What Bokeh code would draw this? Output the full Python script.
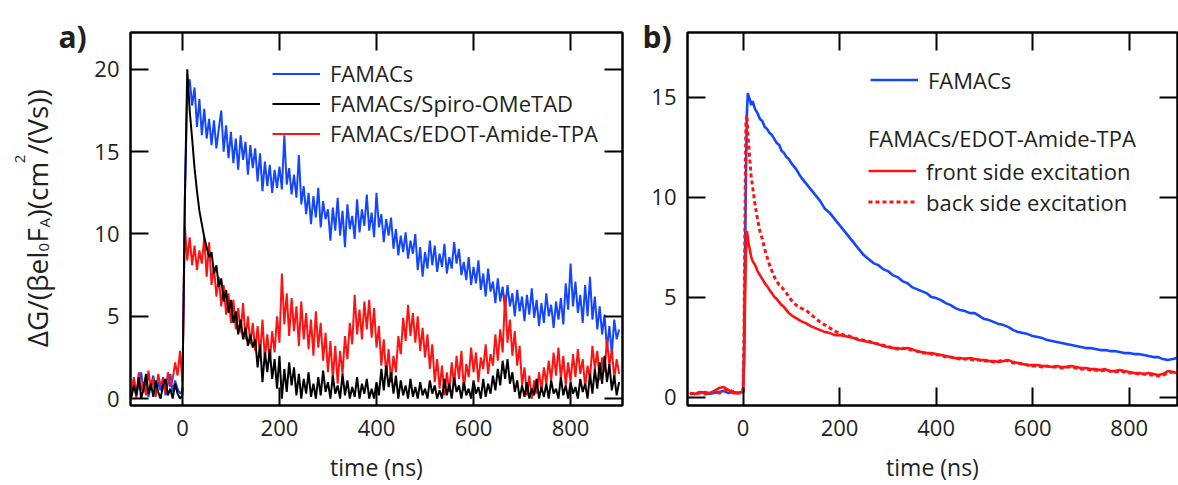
import math
from bokeh.plotting import figure
from bokeh.models import Range1d, LinearAxis, FixedTicker, Legend, LegendItem, Label, GridBox
from bokeh.embed import file_html
from bokeh.resources import INLINE

FONT = "Open Sans"
TXT = "#231F20"
BLUE = "#1446FF"
RED = "#FF1212"
BLACK = "#000000"

# ---------------- data : panel a (t = -105 ns ... 900 ns, every 5 ns) ----------------
A_T0 = -105
A_DT = 5
famacs_a = [
    0.3, 1.2, 0.2, 0.9, 1.6, 0.4, 1.1, 0.1, 0.8, 1.4,
    0.3, 1.0, 0.5, 1.3, 0.2, 0.9, 1.5, 0.4, 1.1, 0.6,
    0.3, 0.5, 12.0, 18.6, 19.4, 17.8, 18.9, 16.5, 18.2, 16.0,
    17.6, 15.8, 17.0, 15.4, 16.9, 15.2, 16.4, 17.5, 15.0, 16.6,
    14.6, 16.2, 14.3, 15.8, 13.9, 16.0, 14.5, 15.6, 13.6, 15.4,
    14.0, 15.2, 13.2, 14.9, 12.6, 14.4, 12.9, 14.2, 12.5, 13.9,
    12.8, 14.1, 12.7, 16.0, 13.0, 14.0, 12.4, 13.6, 12.2, 14.8,
    11.8, 12.9, 11.2, 12.5, 10.6, 12.3, 11.0, 12.8, 10.4, 12.0,
    10.9, 11.5, 9.6, 11.6, 10.2, 12.2, 9.9, 11.4, 9.2, 11.8,
    10.3, 11.1, 9.7, 12.1, 10.1, 11.5, 10.5, 12.4, 10.2, 11.3,
    9.8, 12.5, 10.4, 11.2, 9.5, 10.9, 9.9, 11.0, 9.1, 10.3,
    8.7, 9.9, 8.9, 10.1, 8.5, 9.6, 8.8, 10.0, 7.8, 9.2,
    7.4, 8.9, 7.9, 9.6, 8.1, 9.3, 7.7, 8.8, 8.0, 9.4,
    7.6, 8.6, 7.9, 9.5, 8.2, 9.1, 7.5, 8.3, 7.2, 8.6,
    6.9, 8.0, 7.0, 8.4, 6.6, 7.6, 6.2, 7.9, 6.5, 7.1,
    5.8, 7.3, 5.9, 6.8, 5.4, 6.9, 5.6, 6.4, 5.0, 6.6,
    5.3, 6.2, 4.7, 6.3, 5.1, 6.7, 4.9, 6.0, 4.4, 5.8,
    4.6, 6.4, 5.0, 5.7, 4.3, 5.9, 4.8, 6.1, 4.5, 7.0,
    5.4, 8.2, 5.6, 7.1, 5.2, 6.3, 4.6, 6.9, 5.0, 7.4,
    4.8, 6.2, 4.2, 5.6, 3.9, 5.1, 3.0, 4.4, 2.7, 4.8,
    3.6, 4.2,
]
spiro_a = [
    0.1, 0.8, 0.2, 1.3, 0.0, 0.6, 1.5, 0.3, 0.9, 0.1,
    1.1, 0.4, 0.0, 0.8, 1.2, 0.2, 0.6, 0.0, 0.9, 0.3,
    0.0, 0.2, 12.0, 20.0, 17.5, 15.8, 14.0, 12.6, 11.4, 10.6,
    9.8, 9.2, 8.6, 8.9, 7.6, 8.1, 6.8, 7.3, 5.9, 6.6,
    5.2, 6.0, 4.6, 5.3, 3.9, 4.8, 3.6, 4.3, 3.2, 3.9,
    3.1, 3.6, 1.9, 3.3, 1.0, 2.8, 1.6, 3.0, 1.2, 2.4,
    0.6, 2.6, 0.0, 1.8, 0.4, 2.2, 0.8, 1.9, 0.2, 1.5,
    0.0, 1.2, 0.3, 1.6, 0.1, 0.9, 0.0, 1.3, 0.2, 1.7,
    0.4, 1.0, 0.0, 1.4, 0.3, 0.8, 0.0, 1.5, 0.2, 1.1,
    0.0, 0.7, 0.1, 1.3, 0.0, 0.9, 0.3, 1.2, 0.0, 0.6,
    0.0, 1.0, 0.2, 1.8, 0.5, 2.0, 0.7, 1.6, 0.3, 1.4,
    0.0, 1.1, 0.2, 0.8, 0.0, 1.2, 0.1, 0.7, 0.0, 1.0,
    0.2, 0.6, 0.0, 1.1, 0.3, 0.8, 0.0, 0.5, 0.0, 1.2,
    0.2, 0.9, 0.0, 1.3, 0.4, 0.8, 0.0, 1.0, 0.2, 0.6,
    0.0, 1.1, 0.3, 0.7, 0.0, 1.2, 0.1, 0.9, 0.3, 1.4,
    0.5, 1.8, 0.8, 2.3, 1.2, 2.4, 0.9, 1.6, 0.4, 1.1,
    0.0, 0.8, 0.1, 1.0, 0.0, 0.6, 0.2, 1.2, 0.0, 0.7,
    0.1, 0.9, 0.0, 1.1, 0.3, 0.6, 0.0, 1.3, 0.2, 0.8,
    0.0, 1.0, 0.3, 0.7, 0.0, 1.2, 0.4, 0.9, 0.0, 1.5,
    0.3, 1.8, 0.6, 2.2, 0.9, 2.6, 1.0, 2.1, 0.5, 1.4,
    0.2, 1.0,
]
edot_a = [
    0.4, 1.3, 0.0, 1.6, 0.5, 1.0, 0.2, 1.7, 0.6, 1.2,
    0.1, 1.5, 0.8, 1.1, 0.3, 1.6, 0.7, 1.2, 2.2, 1.4,
    2.9, 1.0, 10.5, 8.4, 9.8, 8.1, 9.3, 7.8, 9.0, 8.2,
    9.8, 7.4, 9.5, 6.9, 8.0, 6.2, 7.4, 5.6, 6.9, 5.1,
    6.4, 4.6, 6.0, 4.2, 5.5, 4.0, 5.8, 3.6, 5.0, 3.3,
    4.6, 2.9, 4.4, 2.6, 4.8, 2.4, 3.9, 2.2, 4.1, 2.8,
    5.0, 3.4, 7.6, 4.5, 6.4, 3.8, 6.1, 4.1, 5.6, 3.2,
    5.9, 3.6, 5.2, 3.0, 4.8, 2.6, 5.3, 3.1, 4.6, 2.3,
    4.0, 1.6, 3.5, 1.2, 3.2, 0.9, 2.9, 1.5, 3.8, 2.4,
    4.6, 3.3, 6.3, 3.9, 5.4, 3.6, 5.9, 4.2, 6.0, 3.7,
    5.5, 3.1, 4.4, 2.0, 3.6, 1.4, 3.0, 1.0, 2.6, 1.6,
    3.8, 2.7, 4.9, 3.5, 5.7, 3.8, 5.2, 3.4, 5.0, 2.9,
    4.3, 2.5, 3.9, 1.8, 3.3, 1.0, 2.4, 0.6, 2.0, 0.2,
    1.6, 0.4, 2.2, 0.8, 2.6, 1.2, 2.9, 0.5, 2.1, 1.3,
    3.1, 1.6, 2.8, 1.0, 2.5, 1.8, 3.3, 1.5, 2.7, 2.0,
    3.9, 2.3, 4.2, 2.8, 6.3, 3.4, 4.8, 2.6, 4.1, 2.0,
    3.2, 0.8, 1.9, 0.2, 1.4, 0.0, 1.1, 0.3, 1.6, 0.5,
    1.9, 0.9, 2.3, 1.1, 2.8, 1.4, 3.1, 1.2, 2.6, 0.8,
    2.2, 1.0, 2.7, 1.3, 3.0, 1.5, 2.4, 0.7, 2.0, 1.2,
    3.2, 1.8, 2.9, 1.1, 2.5, 1.6, 3.6, 2.0, 3.0, 1.2,
    2.4, 1.5,
]

# ---------------- data : panel b ----------------
t_b = [-110, -100, -90, -80, -70, -60, -50, -40, -30, -20, -10, 0,
       2, 4, 6, 8, 10, 12, 14, 17,
       20, 25, 30, 35, 40, 45, 50, 55, 60, 65, 70, 75, 80, 85, 90, 95, 100] + list(range(110, 910, 10))
famacs_b = [
    0.2, 0.15, 0.25, 0.2, 0.15, 0.2, 0.25, 0.3, 0.2, 0.25, 0.2, 0.3,
    2.0, 6.5, 11.0, 14.2, 15.2, 15.0, 14.9, 14.6,
    14.8, 14.4, 14.2, 13.9, 13.8, 13.5, 13.4, 13.2, 13.1, 12.9, 12.7, 12.6, 12.3, 12.2, 12.0, 11.9, 11.7,
    11.4, 11.0, 10.7, 10.4, 10.1, 9.8, 9.4, 9.2, 8.9, 8.6,
    8.3, 8.0, 7.7, 7.4, 7.1, 6.9, 6.7, 6.6, 6.4, 6.3,
    6.1, 6.0, 5.8, 5.7, 5.5, 5.4, 5.3, 5.2, 5.0, 4.95,
    4.85, 4.7, 4.6, 4.45, 4.35, 4.3, 4.2, 4.2, 4.05, 3.9,
    3.85, 3.75, 3.65, 3.6, 3.5, 3.35, 3.25, 3.2, 3.15, 3.05,
    3.0, 2.95, 2.85, 2.8, 2.75, 2.7, 2.65, 2.6, 2.55, 2.5,
    2.45, 2.45, 2.4, 2.35, 2.35, 2.3, 2.3, 2.25, 2.2, 2.2,
    2.15, 2.15, 2.1, 2.05, 2.0, 2.0, 1.9, 1.85, 1.9, 1.95,
]
front_b = [
    0.2, 0.15, 0.2, 0.25, 0.2, 0.3, 0.45, 0.5, 0.35, 0.2, 0.2, 0.25,
    1.5, 4.5, 7.2, 8.3, 8.0, 7.6, 7.4, 7.0,
    6.8, 6.6, 6.3, 6.1, 5.9, 5.7, 5.55, 5.35, 5.2, 5.0, 4.9, 4.75, 4.6, 4.5, 4.35, 4.2, 4.1,
    3.95, 3.8, 3.7, 3.55, 3.45, 3.35, 3.25, 3.2, 3.1, 3.1,
    3.05, 3.0, 2.95, 2.85, 2.8, 2.75, 2.7, 2.65, 2.55, 2.5,
    2.45, 2.45, 2.4, 2.45, 2.4, 2.3, 2.25, 2.2, 2.2, 2.15,
    2.1, 2.05, 2.0, 1.95, 1.95, 1.9, 1.95, 1.9, 1.85, 1.85,
    1.8, 1.8, 1.75, 1.8, 1.85, 1.75, 1.7, 1.65, 1.6, 1.6,
    1.6, 1.55, 1.55, 1.5, 1.55, 1.5, 1.5, 1.55, 1.5, 1.45,
    1.45, 1.4, 1.4, 1.35, 1.4, 1.3, 1.3, 1.35, 1.3, 1.25,
    1.2, 1.2, 1.15, 1.2, 1.15, 1.1, 1.15, 1.3, 1.25, 1.2,
]
back_b = [
    0.15, 0.2, 0.2, 0.15, 0.2, 0.25, 0.2, 0.3, 0.4, 0.25, 0.2, 0.2,
    3.0, 9.0, 13.8, 14.1, 13.2, 12.5, 11.9, 11.0,
    10.5, 9.6, 8.9, 8.3, 7.9, 7.4, 7.0, 6.6, 6.3, 6.0, 5.8, 5.6, 5.5, 5.35, 5.2, 5.0, 4.85,
    4.6, 4.45, 4.35, 4.15, 3.95, 3.75, 3.6, 3.45, 3.3, 3.2,
    3.1, 3.05, 2.95, 2.9, 2.85, 2.8, 2.7, 2.65, 2.6, 2.55,
    2.45, 2.4, 2.45, 2.4, 2.35, 2.3, 2.2, 2.2, 2.15, 2.1,
    2.1, 2.0, 2.0, 1.95, 1.9, 1.9, 1.9, 1.85, 1.85, 1.8,
    1.8, 1.75, 1.8, 1.85, 1.8, 1.7, 1.7, 1.65, 1.6, 1.55,
    1.55, 1.5, 1.55, 1.5, 1.5, 1.45, 1.5, 1.5, 1.45, 1.4,
    1.4, 1.35, 1.35, 1.3, 1.35, 1.3, 1.25, 1.3, 1.25, 1.2,
    1.2, 1.15, 1.15, 1.1, 1.1, 1.05, 1.1, 1.2, 1.25, 1.15,
]

X_TICKS = [0, 200, 400, 600, 800]
YA_TICKS = [0, 5, 10, 15, 20]
YB_TICKS = [0, 5, 10, 15]
LEGEND_A = ["FAMACs", "FAMACs/Spiro-OMeTAD", "FAMACs/EDOT-Amide-TPA"]
LEGEND_B = ["FAMACs", "front side excitation", "back side excitation"]
LEGEND_B_TITLE = "FAMACs/EDOT-Amide-TPA"
X_LABEL = "time (ns)"

# ---------------- layout constants (page pixels) ----------------
W_TOTAL, H = 1178, 485
TOP, BOTTOM = 32, 79          # frame from y=32 to y=406
FRAME_H = H - TOP - BOTTOM
XA = (-107, 907)
YA = (-0.42, 22.24)
XB = (-115, 900)
YB = (-0.42, 18.23)


def make_fig(width, left, right, xr, yr, yticks):
    p = figure(width=width, height=H, x_range=Range1d(*xr), y_range=Range1d(*yr),
               output_backend="svg", toolbar_location=None,
               min_border_left=left, min_border_right=right,
               min_border_top=TOP, min_border_bottom=BOTTOM)
    p.frame_align = False
    p.xgrid.visible = False
    p.ygrid.visible = False
    p.outline_line_color = "black"
    p.outline_line_width = 2
    p.outline_line_alpha = 1.0
    p.background_fill_color = "white"
    p.border_fill_color = "white"
    p.xaxis.ticker = FixedTicker(ticks=X_TICKS)
    p.yaxis.ticker = FixedTicker(ticks=yticks)
    for ax in (p.xaxis[0], p.yaxis[0]):
        ax.axis_line_width = 2
        ax.axis_line_color = "black"
        ax.major_tick_line_width = 2
        ax.major_tick_line_color = "black"
        ax.major_tick_in = 18
        ax.major_tick_out = 0
        ax.minor_tick_line_color = None
        ax.major_label_text_font = FONT
        ax.major_label_text_font_size = "22px"
        ax.major_label_text_color = TXT
    p.xaxis.major_label_standoff = 14
    p.yaxis.major_label_standoff = 11
    p.xaxis.axis_label = X_LABEL
    p.xaxis.axis_label_text_font = FONT
    p.xaxis.axis_label_text_font_size = "23px"
    p.xaxis.axis_label_text_font_style = "normal"
    p.xaxis.axis_label_text_color = TXT
    p.xaxis.axis_label_standoff = 12
    # mirrored ticks on top and right (no labels drawn)
    for loc, tk in (("above", X_TICKS), ("right", yticks)):
        ax = LinearAxis(ticker=FixedTicker(ticks=tk), major_tick_in=18, major_tick_out=0,
                        major_tick_line_width=2, axis_line_width=2,
                        minor_tick_line_color=None, major_label_standoff=0,
                        major_label_text_font_size="1px", major_label_text_color=None,
                        axis_label_standoff=0)
        p.add_layout(ax, loc)
    return p


def legend(items, loc, h, **kw):
    return Legend(items=items, location=loc, padding=0, margin=0, spacing=0,
                  glyph_width=48, glyph_height=h, label_height=h, label_standoff=10,
                  label_text_font=FONT, label_text_font_size="22px", label_text_color=TXT,
                  border_line_color=None, background_fill_alpha=0, **kw)


# ---------------- panel a ----------------
WA = 636
pa = make_fig(WA, 130, 14, XA, YA, YA_TICKS)
ra1 = pa.line([A_T0 + A_DT * i for i in range(len(famacs_a))], famacs_a, line_color=BLUE, line_width=2)
ra3 = pa.line([A_T0 + A_DT * i for i in range(len(edot_a))], edot_a, line_color=RED, line_width=2)
ra2 = pa.line([A_T0 + A_DT * i for i in range(len(spiro_a))], spiro_a, line_color=BLACK, line_width=2)
pa.add_layout(legend([LegendItem(label=LEGEND_A[0], renderers=[ra1]),
                      LegendItem(label=LEGEND_A[1], renderers=[ra2]),
                      LegendItem(label=LEGEND_A[2], renderers=[ra3])],
                     (142, 257), 29), "center")

# ---------------- panel b ----------------
WB = W_TOTAL - WA
pb = make_fig(WB, 51, 1, XB, YB, YB_TICKS)
rb1 = pb.line(t_b, famacs_b, line_color=BLUE, line_width=2.6)
rb2 = pb.line(t_b, front_b, line_color=RED, line_width=2.6)
rb3 = pb.line(t_b, back_b, line_color=RED, line_width=3, line_dash="4 3")
pb.add_layout(legend([LegendItem(label=LEGEND_B[0], renderers=[rb1])],
                     (183, FRAME_H - 64), 31), "center")
pb.add_layout(legend([LegendItem(label=LEGEND_B[1], renderers=[rb2]),
                      LegendItem(label=LEGEND_B[2], renderers=[rb3])],
                     (181, FRAME_H - 186), 31,
                     title=LEGEND_B_TITLE, title_text_font=FONT, title_text_font_size="22px",
                     title_text_font_style="normal", title_text_color=TXT, title_standoff=2),
              "center")

# ---------------- transparent overlay for texts outside the plot frames ----------------
ov = figure(width=W_TOTAL, height=H, x_range=Range1d(0, W_TOTAL), y_range=Range1d(0, H),
            output_backend="svg", toolbar_location=None, x_axis_type=None, y_axis_type=None,
            min_border_left=0, min_border_right=0, min_border_top=0, min_border_bottom=0)
ov.frame_align = False
ov.outline_line_color = None
ov.background_fill_alpha = 0
ov.border_fill_alpha = 0


def put(px, py, text, size, **kw):
    ov.add_layout(Label(x=px, y=H - py, text=text, text_font=FONT, text_font_size=f"{size}px",
                        text_color=TXT, **kw))


# y-axis label of panel a, with subscripts and superscript (x = centre line of each piece)
pieces = [("ΔG/(βel", 28, 36, 3.396), ("0", 15, 43, 0.572), ("F", 28, 36, 0.516),
          ("A", 15, 43, 0.633), (")(cm", 28, 36, 1.921), ("2", 15, 19, 0.572),
          ("/(Vs))", 28, 36, 2.335)]
total = sum(sz * em for _, sz, _, em in pieces)
pos = 219 + total / 2
for txt, sz, cx, em in pieces:
    put(cx, pos, txt, sz, angle=math.pi / 2, text_align="left", text_baseline="middle")
    pos -= sz * em + 0.5

put(58, 36, "a)", 30, text_font_style="bold", text_align="left", text_baseline="alphabetic")
put(642, 36, "b)", 30, text_font_style="bold", text_align="left", text_baseline="alphabetic")

layout = GridBox(children=[(pa, 0, 0), (pb, 0, 1), (ov, 0, 0, 1, 2)], spacing=0)
open("out.html", "w").write(file_html(layout, INLINE))
